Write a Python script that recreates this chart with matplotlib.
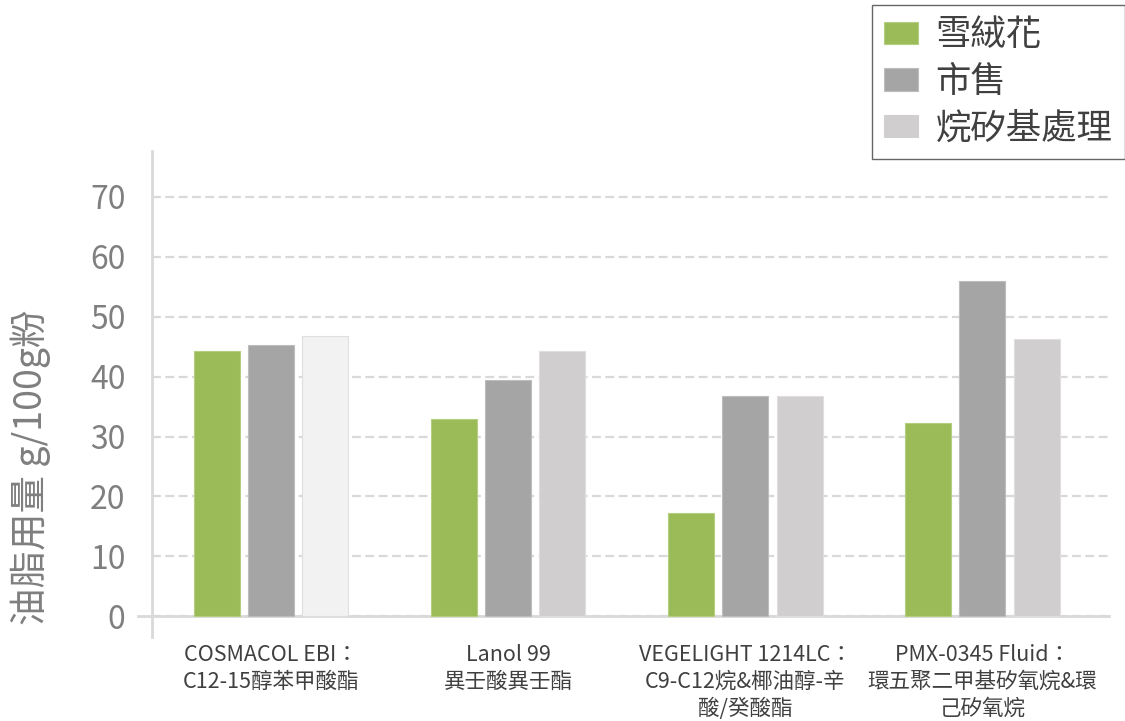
import matplotlib.pyplot as plt
import numpy as np

plt.rcParams['font.family'] = ['Noto Sans CJK TC', 'DejaVu Sans']

# 數據
categories = ['COSMACOL EBI：\nC12-15醇苯甲酸酯',
              'Lanol 99\n異壬酸異壬酯',
              'VEGELIGHT 1214LC：\nC9-C12烷&椰油醇-辛\n酸/癸酸酯',
              'PMX-0345 Fluid：\n環五聚二甲基矽氧烷&環\n己矽氧烷']
series_names = ['雪絨花', '市售', '烷矽基處理']
snow = [44.2, 33.0, 17.2, 32.2]
market = [45.3, 39.5, 36.7, 56.0]
silane = [46.8, 44.2, 36.7, 46.2]
yticks = [0, 10, 20, 30, 40, 50, 60, 70]

colors = ['#9bbb59', '#a5a5a5', '#d0cece']
silane_colors = ['#f2f2f2', '#d0cece', '#d0cece', '#d0cece']

fig = plt.figure(figsize=(11.25, 7.21), dpi=100)
ax = fig.add_axes([0.135, 0.117, 0.851, 0.674])

x = np.arange(len(categories))
w = 0.194
step = 0.229
ax.bar(x - step, snow, w, color=colors[0], edgecolor='#b5cf80', linewidth=0.8, label=series_names[0], zorder=3)
ax.bar(x, market, w, color=colors[1], edgecolor='#bdbdbd', linewidth=0.8, label=series_names[1], zorder=3)
ax.bar(x + step, silane, w, color=silane_colors, edgecolor='#e0dede', linewidth=0.8, label=series_names[2], zorder=3)

ax.set_xlim(-0.502, 3.535)
ax.set_ylim(-3.4, 77.7)
ax.set_yticks(yticks)
ax.set_yticklabels([str(v) for v in yticks], fontsize=23, color='#7f7f7f')
ax.tick_params(axis='y', length=0, pad=19)
ax.set_xticks(x)
ax.set_xticklabels(categories, fontsize=15.5, color='#404040', linespacing=1.3, va='top')
ax.tick_params(axis='x', length=0, pad=5)

ax.grid(axis='y', color='#d9d9d9', linestyle=(0, (4, 2)), linewidth=1.6, zorder=0)
ax.axhline(0, xmin=-0.015, xmax=1, color='#d9d9d9', linewidth=2, clip_on=False, zorder=2)

for s in ['top', 'right', 'bottom']:
    ax.spines[s].set_visible(False)
ax.spines['left'].set_color('#d9d9d9')
ax.spines['left'].set_linewidth(2)

ax.set_ylabel('油脂用量 g/100g粉', fontsize=27, color='#7f7f7f')
ax.yaxis.set_label_coords(-0.105, 0.348)

leg = fig.legend(loc='upper left', bbox_to_anchor=(0.775, 0.993), fontsize=25.5,
                 frameon=True, fancybox=False, handlelength=0.95, handleheight=0.6,
                 handletextpad=0.5, labelspacing=0.3, borderpad=0.35, borderaxespad=0)
leg.get_frame().set_edgecolor('#404040')
leg.get_frame().set_linewidth(1.0)
for t in leg.get_texts():
    t.set_color('#404040')
leg.legend_handles[2].set_color('#d0cece')

fig.savefig('out.png', dpi=100)
